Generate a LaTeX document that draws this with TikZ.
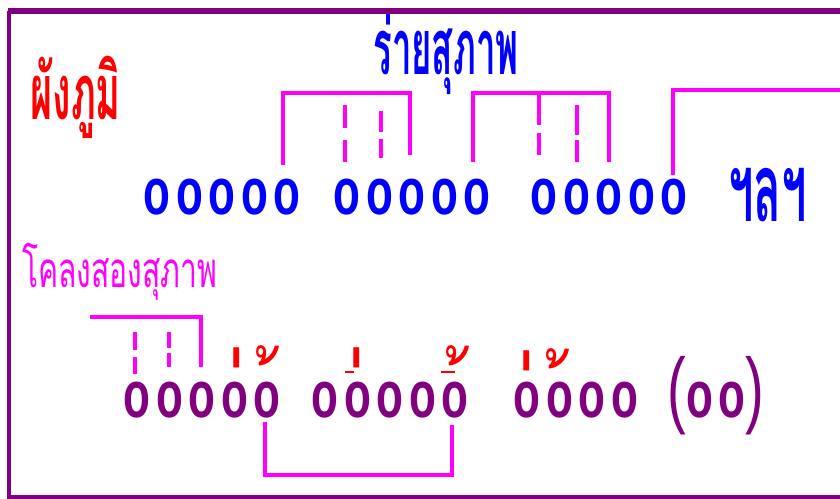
\documentclass[tikz,border=0pt]{standalone}
\usepackage{fontspec}
\usepackage{graphicx}
\newfontfamily\thaifont[Script=Thai]{Loma}
\newfontfamily\ofont[LetterSpace=12.8]{Liberation Sans}
\definecolor{framepurple}{RGB}{128,0,128}
\definecolor{linkmagenta}{RGB}{255,0,255}
\newcommand{\tall}[1]{\scalebox{1}[1.5]{#1}}
\newcommand{\maiek}{\raisebox{-75.7pt}{\scalebox{0.8}[1.4]{\makebox[10pt][r]{่}}}}
\newcommand{\maitho}{\raisebox{-42pt}{\scalebox{0.6}[0.85]{\makebox[20pt][r]{้}}}}
\usetikzlibrary{positioning}

\begin{document}
\begin{tikzpicture}[x=0.02cm,y=-0.02cm,every node/.style={inner sep=0pt,anchor=base west},
	syl/.style={font=\ofont\bfseries\fontsize{25}{25}\selectfont},
	heading/.style={font=\thaifont\bfseries\fontsize{44}{44}\selectfont},
	tone/.style={font=\thaifont\fontsize{60}{60}\selectfont,text=red,anchor=base east},
	bracket/.style={draw=linkmagenta,line width=2.6pt},
	tick/.style={draw=linkmagenta,line width=2pt}]
	\useasboundingbox (0,0) rectangle (840,499);
	\draw[framepurple,line width=2.2pt] (9,11) -- (9,497) -- (850,497);
	\draw[framepurple,line width=3.2pt] (8,11) -- (850,11);

	% titles
	\node[heading,text=red] (plan) at (30,120) {\scalebox{0.49}[1]{ผังภูมิ}};
	\node[heading,text=blue] (rai) at (373,75) {\scalebox{0.45}[1]{ร่ายสุภาพ}};
	\node[heading,text=blue,font=\thaifont\bfseries\fontsize{54}{54}\selectfont] (etc) at (728,222) {\scalebox{0.48}[1]{ฯลฯ}};
	\node[font=\thaifont\fontsize{28}{28}\selectfont,text=linkmagenta] (klong) at (22,288) {\scalebox{0.61}[1]{โคลงสองสุภาพ}};

	% syllables, first row
	\node[syl,text=blue] (r1a) at (143.3,215) {\tall{ooooo}};
	\node[syl,text=blue] (r1b) at (333.3,215) {\tall{ooooo}};
	\node[syl,text=blue] (r1c) at (530.3,215) {\tall{ooooo}};

	% syllables, second row
	\node[syl,text=framepurple] (r2a) at (123.3,418) {\tall{ooooo}};
	\node[syl,text=framepurple] (r2b) at (311.3,418) {\tall{ooooo}};
	\node[syl,text=framepurple] (r2c) at (513.3,418) {\tall{oooo}};
	\node[syl,text=framepurple] (r2d) at (667,418) {\tall{{\fontsize{32}{32}\mdseries\selectfont(}oo{\fontsize{32}{32}\mdseries\selectfont)}}};

	% tone marks
	\node[tone] (m1) at (248,367) {\maiek};
	\node[tone] (m2) at (278,367) {\maitho};
	\node[tone] (m3) at (368,367) {\maiek};
	\node[tone] (m4) at (468,367) {\maitho};
	\node[tone] (m5) at (538,370) {\maiek};
	\node[tone] (m6) at (568,370) {\maitho};
	\coordinate (u3a) at (345,372);
	\coordinate (u3b) at (354,372);
	\coordinate (u4a) at (441,372);
	\coordinate (u4b) at (455,372);
	\draw[red,line width=1.7pt] (u3a) -- (u3b);
	\draw[red,line width=1.7pt] (u4a) -- (u4b);

	% brackets, first row
	\coordinate (a1) at (283,165);
	\coordinate (a2) at (410,93);
	\coordinate (a3) at (410,155);
	\draw[bracket] (a1) |- (a2) -- (a3);
	\coordinate (a4) at (345,105);
	\coordinate (a5) at (345,162);
	\coordinate (a6) at (381,111);
	\coordinate (a7) at (381,158);
	\draw[tick,dash pattern=on 13pt off 7pt] (a4) -- (a5);
	\draw[tick,dash pattern=on 12pt off 4pt] (a6) -- (a7);
	\coordinate (b1) at (473,162);
	\coordinate (b2) at (609,93);
	\coordinate (b3) at (609,162);
	\draw[bracket] (b1) |- (b2) -- (b3);
	\coordinate (b4) at (539,95);
	\coordinate (b5) at (539,155);
	\coordinate (b6) at (577,105);
	\coordinate (b7) at (577,162);
	\draw[tick,dash pattern=on 17pt off 4.5pt] (b4) -- (b5);
	\draw[tick,dash pattern=on 17pt off 3pt] (b6) -- (b7);
	\coordinate (c1) at (673,175);
	\coordinate (c2) at (850,90);
	\draw[bracket] (c1) |- (c2);

	% brackets, second row
	\coordinate (d1) at (90,317);
	\coordinate (d2) at (201,317);
	\coordinate (d3) at (201,367);
	\draw[bracket] (d1) -- (d2) -- (d3);
	\coordinate (d4) at (135,332);
	\coordinate (d5) at (135,377);
	\coordinate (d6) at (169,332);
	\coordinate (d7) at (169,367);
	\draw[tick,dash pattern=on 10pt off 4pt] (d4) -- (d5);
	\draw[tick,dash pattern=on 9pt off 3pt] (d6) -- (d7);
	\coordinate (e1) at (265,422);
	\coordinate (e2) at (452,475);
	\coordinate (e3) at (452,425);
	\draw[bracket] (e1) |- (e2) -- (e3);
\end{tikzpicture}
\end{document}
